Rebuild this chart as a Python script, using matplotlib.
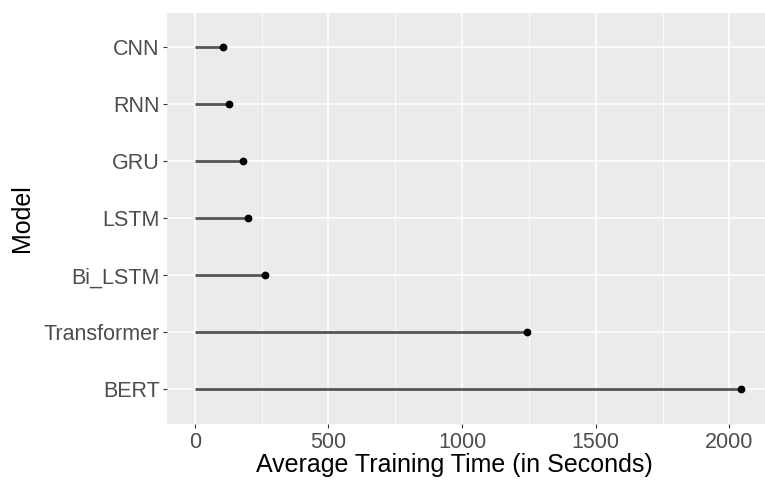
import matplotlib
matplotlib.use('Agg')
import matplotlib.pyplot as plt
import numpy as np

#data
models = ['BERT', 'Transformer', 'Bi_LSTM', 'LSTM', 'GRU', 'RNN', 'CNN']
avgTime = [2042, 1242, 261, 198, 180, 129, 107]

plt.rcParams['font.family'] = ['Liberation Sans', 'DejaVu Sans']

fig = plt.figure(figsize=(7.65, 4.8), dpi=100)
ax = fig.add_axes([0.218, 0.1177, 0.782, 0.855])
ax.set_facecolor('#EBEBEB')

yPos = np.arange(len(models))
ax.hlines(yPos, 0, avgTime, color='#555555', linewidth=2.0, zorder=3)
ax.plot(avgTime, yPos, 'o', color='black', markersize=4.6, zorder=4)

#ggplot-like limits / grid
ax.set_xlim(-104.7, 2133)
ax.set_ylim(-0.6, len(models) - 1 + 0.6)
ax.set_xticks([0, 500, 1000, 1500, 2000])
ax.set_xticks([250, 750, 1250, 1750], minor=True)
ax.set_yticks(yPos)
ax.set_yticklabels(models)
ax.grid(which='major', color='white', linewidth=1.1, zorder=0)
ax.grid(which='minor', axis='x', color='white', linewidth=0.55, zorder=0)
ax.set_axisbelow(True)
for s in ax.spines.values():
    s.set_visible(False)

ax.tick_params(axis='both', which='major', length=3, width=0.8, color='#333333',
               labelcolor='#4D4D4D', labelsize=15.5, pad=2)
ax.tick_params(axis='x', which='major', pad=3)
ax.tick_params(axis='both', which='minor', length=0)

ax.set_xlabel('Average Training Time (in Seconds)', fontsize=18, color='black')
ax.xaxis.set_label_coords(0.481, -0.072)
ax.set_ylabel('Model', fontsize=18, color='black')
ax.yaxis.set_label_coords(-0.222, 0.5)

fig.savefig('out.png', dpi=100)
